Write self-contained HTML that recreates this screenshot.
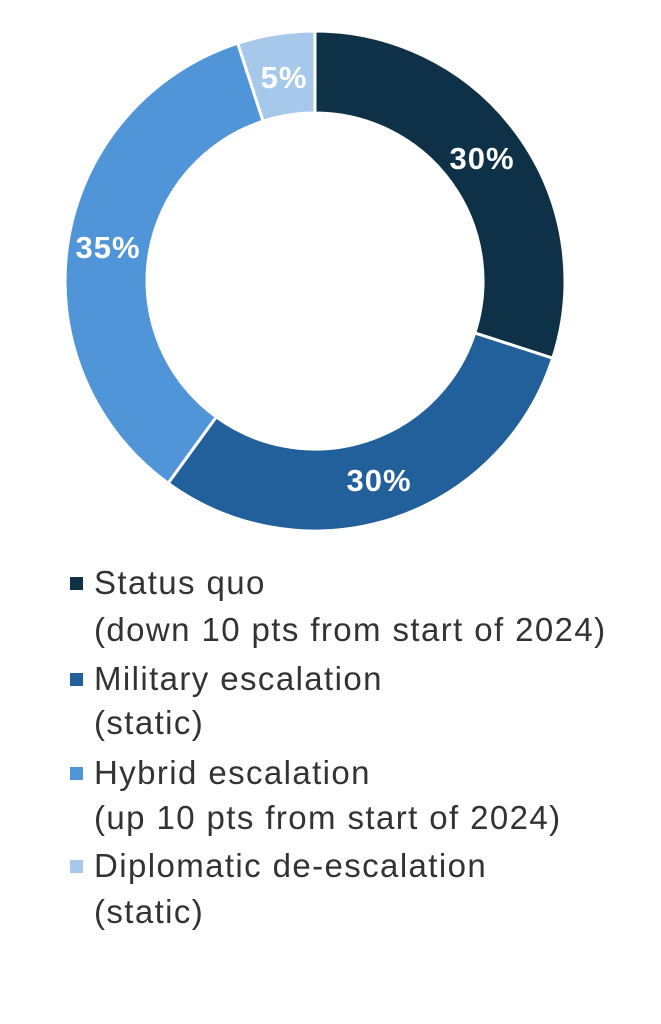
<!DOCTYPE html>
<html><head><style>
html,body{margin:0;padding:0;background:#fff;}
body{width:661px;height:1024px;position:relative;overflow:hidden;font-family:"Liberation Sans",sans-serif;}
.l{position:absolute;left:94px;font-size:33px;letter-spacing:1.4px;color:#333;line-height:36px;white-space:nowrap;}
.sq{position:absolute;left:70px;width:13px;height:13px;}
</style></head><body>
<svg width="661" height="560" style="position:absolute;left:0;top:0" viewBox="0 0 661 560">
<g transform="translate(315,281)" stroke="#fff" stroke-width="3">
<path fill="#0e3147" d="M0,-250 A250,250 0 0 1 237.76,77.25 L159.78,51.91 A168,168 0 0 0 0,-168 Z"/>
<path fill="#22609b" d="M237.76,77.25 A250,250 0 0 1 -146.95,202.25 L-98.75,135.92 A168,168 0 0 0 159.78,51.91 Z"/>
<path fill="#4f95d8" d="M-146.95,202.25 A250,250 0 0 1 -77.25,-237.76 L-51.91,-159.78 A168,168 0 0 0 -98.75,135.92 Z"/>
<path fill="#a6c9eb" d="M-77.25,-237.76 A250,250 0 0 1 0,-250 L0,-168 A168,168 0 0 0 -51.91,-159.78 Z"/>
</g>
<g font-family="Liberation Sans,sans-serif" font-weight="bold" font-size="31" letter-spacing="1" fill="#fff" text-anchor="middle">
<text x="482" y="169">30%</text>
<text x="379" y="491">30%</text>
<text x="108" y="258">35%</text>
<text x="284" y="88">5%</text>
</g>
</svg>
<div class="sq" style="top:577px;background:#0e3147"></div>
<div class="l" style="top:565px">Status quo</div>
<div class="l" style="top:612px">(down 10 pts from start of 2024)</div>
<div class="sq" style="top:673px;background:#22609b"></div>
<div class="l" style="top:661px">Military escalation</div>
<div class="l" style="top:705px">(static)</div>
<div class="sq" style="top:767px;background:#4f95d8"></div>
<div class="l" style="top:755px">Hybrid escalation</div>
<div class="l" style="top:800px">(up 10 pts from start of 2024)</div>
<div class="sq" style="top:860px;background:#a6c9eb"></div>
<div class="l" style="top:848px">Diplomatic de-escalation</div>
<div class="l" style="top:894px">(static)</div>
</body></html>
